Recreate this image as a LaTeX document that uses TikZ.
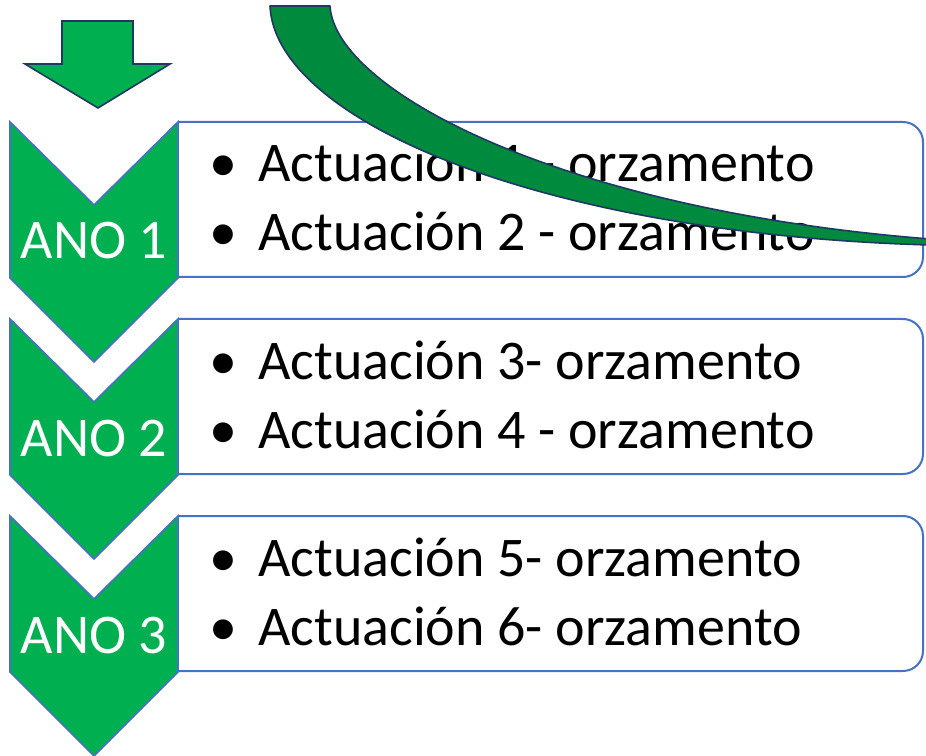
\documentclass[tikz,border=0pt]{standalone}
\usepackage{fontspec}
\setmainfont{Carlito}
\definecolor{anogreen}{HTML}{00B050}
\definecolor{curvegreen}{HTML}{008A3E}
\definecolor{darknavy}{HTML}{1F3864}
\definecolor{boxblue}{HTML}{4472C4}
\tikzset{
  chevron/.style={fill=anogreen, draw=boxblue, line width=1.3pt, line join=miter},
  actbox/.style={fill=white, draw=boxblue, line width=1.5pt, rounded corners=15pt},
  anotext/.style={white, anchor=base, inner sep=0pt},
  acttext/.style={black, anchor=base west, inner sep=0pt},
}
\begin{document}
\begin{tikzpicture}[x=0.75pt, y=-0.75pt, font=\fontsize{42}{50}\selectfont, line join=round]
  \useasboundingbox (0,0) rectangle (926,756);
  % top arrow
  \draw[fill=anogreen, draw=darknavy, line width=1.2pt, line join=miter]
    (62,21) -- (133,21) -- (133,64) -- (170,64) -- (98,108) -- (25,64) -- (62,64) -- cycle;
  % years
  \foreach \k/\ano/\la/\lb in {0/1/{Actuación 1 - orzamento}/{Actuación 2 - orzamento},
                               1/2/{Actuación 3- orzamento}/{Actuación 4 - orzamento},
                               2/3/{Actuación 5- orzamento}/{Actuación 6- orzamento}}{
    \pgfmathsetmacro{\T}{122+197*\k}
    \draw[actbox] (178,\T) -- (923,\T) -- (923,\T+155) -- (178,\T+155);
    \draw[chevron] (10,\T) -- (94,\T+83) -- (178,\T) -- (178,\T+156) -- (94,\T+240) -- (10,\T+156) -- cycle;
    \node[anotext] (ano\ano) at (94,\T+137) {ANO \ano};
    \node[anchor=base, inner sep=0pt] (bula\ano) at (223,\T+60) {•};
    \node[acttext] (acta\ano) at (258,\T+60) {\la};
    \node[anchor=base, inner sep=0pt] (bulb\ano) at (223,\T+129) {•};
    \node[acttext] (actb\ano) at (258,\T+129) {\lb};
  }
  % curved arrow
  \draw[fill=curvegreen, draw=darknavy, line width=1.2pt]
    (270,6) -- (330,6) .. controls (335,90) and (560,210) .. (930,239)
    -- (930,245) .. controls (540,234) and (275,120) .. (270,6) -- cycle;
\end{tikzpicture}
\end{document}
